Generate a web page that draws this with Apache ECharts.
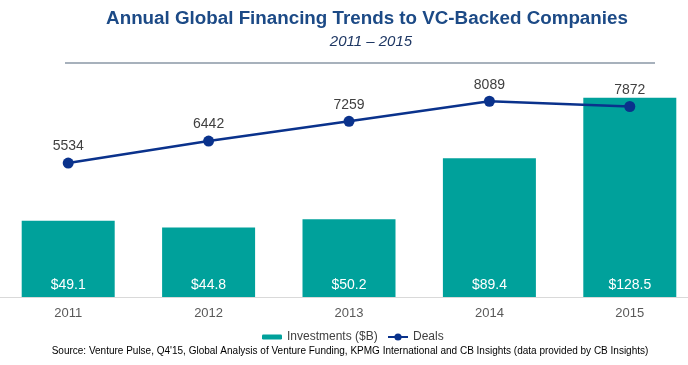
<!DOCTYPE html>
<html>
<head>
<meta charset="utf-8">
<script src="https://cdn.jsdelivr.net/npm/echarts@6/dist/echarts.min.js"></script>
<style>
html,body{margin:0;padding:0;background:#fff;overflow:hidden;width:688px;height:365px;}
#c{position:absolute;left:-2px;top:0;width:702px;height:365px;}
</style>
</head>
<body>
<div id="c"></div>
<script>
const categories = ['2011', '2012', '2013', '2014', '2015'];
const investments = [49.1, 44.8, 50.2, 89.4, 128.5];
const deals = [5534, 6442, 7259, 8089, 7872];

const chart = echarts.init(document.getElementById('c'), null, {renderer: 'canvas'});
const font = 'Arial, "Liberation Sans", sans-serif';
const dx = 2; // chart container is shifted 2px left of the page
chart.setOption({
  animation: false,
  backgroundColor: '#ffffff',
  title: [
    {text: 'Annual Global Financing Trends to VC-Backed Companies', left: 367 + dx, top: 9, padding: 0, textAlign: 'center',
     textStyle: {fontFamily: font, fontSize: 18.8, fontWeight: 'bold', color: '#1C4A86'}},
    {text: '2011 – 2015', left: 371 + dx, top: 34, padding: 0, textAlign: 'center',
     textStyle: {fontFamily: font, fontSize: 15, fontStyle: 'italic', fontWeight: 'normal', color: '#1F3864'}},
    {text: "Source: Venture Pulse, Q4'15, Global Analysis of Venture Funding, KPMG International and CB Insights (data provided by CB Insights)",
     left: 350 + dx, top: 346, padding: 0, textAlign: 'center',
     textStyle: {fontFamily: font, fontSize: 10, fontWeight: 'normal', color: '#000000'}}
  ],
  graphic: [
    {type: 'line', shape: {x1: 65 + dx, y1: 63, x2: 655 + dx, y2: 63}, style: {stroke: '#A7B1BC', lineWidth: 2}}
  ],
  legend: [
    {data: ['Investments ($B)'], left: 262 + dx, top: 331, padding: 0, itemWidth: 20, itemHeight: 5, itemGap: 14,
     textStyle: {fontFamily: font, fontSize: 12, color: '#404040'}},
    {data: ['Deals'], left: 387 + dx, top: 331, padding: 0, itemWidth: 20, itemHeight: 9, itemGap: 14,
     textStyle: {fontFamily: font, fontSize: 12, color: '#404040'}}
  ],
  grid: {left: 0, right: 0, top: 55, bottom: 68, containLabel: false},
  xAxis: {
    type: 'category', data: categories,
    axisLine: {show: true, lineStyle: {color: '#D9D9D9', width: 1}},
    axisTick: {show: false},
    axisLabel: {fontFamily: font, fontSize: 13, color: '#595959', margin: 10}
  },
  yAxis: [
    {type: 'value', min: 0, max: 156, show: false, splitLine: {show: false}},
    {type: 'value', min: 0, max: 10000, show: false, splitLine: {show: false}}
  ],
  series: [
    {name: 'Investments ($B)', type: 'bar', data: investments, yAxisIndex: 0, barWidth: 93,
     itemStyle: {color: '#00A19B'},
     label: {show: true, position: 'insideBottom', distance: 5, fontFamily: font, fontSize: 14,
             color: '#ffffff', formatter: p => '$' + p.value.toFixed(1)}},
    {name: 'Deals', type: 'line', data: deals, yAxisIndex: 1, symbol: 'circle', symbolSize: 11,
     lineStyle: {color: '#0A328C', width: 2.5}, itemStyle: {color: '#0A328C'},
     label: {show: true, position: 'top', distance: 4, fontFamily: font, fontSize: 14, color: '#404040'}}
  ]
});
</script>
</body>
</html>
